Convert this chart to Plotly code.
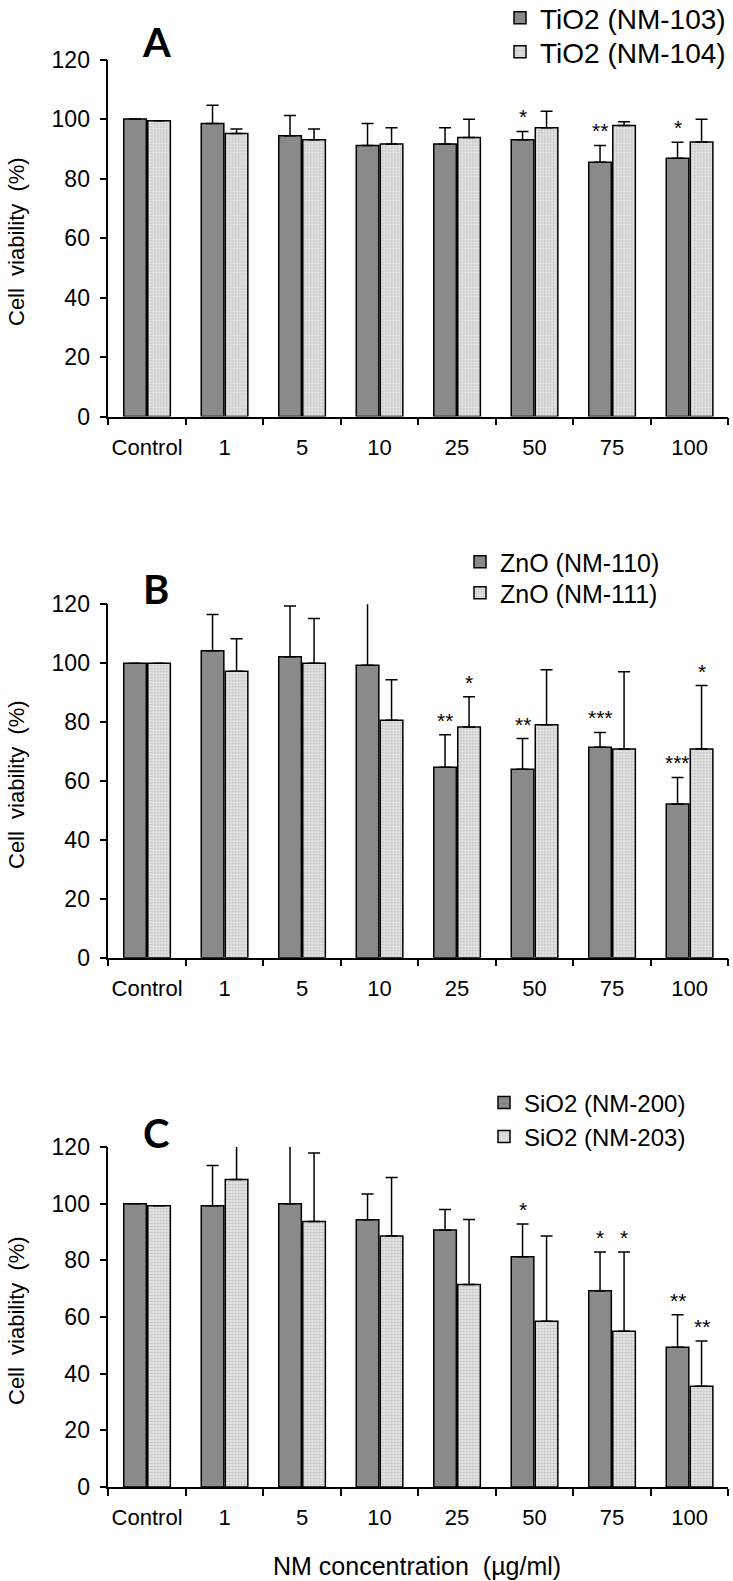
import plotly.graph_objects as go
from plotly.subplots import make_subplots

categories = ["Control", "1", "5", "10", "25", "50", "75", "100"]

# Panel A
a_names = ["TiO2 (NM-103)", "TiO2 (NM-104)"]
a_dark = [100, 98.5, 94.4, 91.1, 91.6, 93.0, 85.5, 86.8]
a_dark_err = [0, 6.1, 6.8, 7.4, 5.5, 2.8, 5.6, 5.4]
a_light = [99.4, 95.1, 93.0, 91.6, 93.8, 97.1, 97.8, 92.3]
a_light_err = [0, 1.5, 3.6, 5.5, 6.1, 5.5, 1.3, 7.6]
a_stars = [(5, 0, "*"), (6, 0, "**"), (7, 0, "*")]

# Panel B
b_names = ["ZnO (NM-110)", "ZnO (NM-111)"]
b_dark = [100, 104.2, 102.2, 99.3, 64.7, 64.0, 71.5, 52.2]
b_dark_err = [0, 12.3, 17.2, 25.0, 11.0, 10.4, 5.0, 9.0]
b_light = [100, 97.3, 100, 80.6, 78.3, 79.1, 70.9, 70.9]
b_light_err = [0, 11.0, 15.2, 13.8, 10.3, 18.7, 26.2, 21.5]
b_stars = [(4, 0, "**"), (4, 1, "*"), (5, 0, "**"), (6, 0, "***"), (7, 0, "***"), (7, 1, "*")]

# Panel C
c_names = ["SiO2 (NM-200)", "SiO2 (NM-203)"]
c_dark = [100, 99.3, 100, 94.3, 90.7, 81.3, 69.3, 49.3]
c_dark_err = [0, 14.2, 23.0, 9.1, 7.2, 11.5, 13.6, 11.5]
c_light = [99.3, 108.5, 93.7, 88.6, 71.5, 58.5, 55.0, 35.6]
c_light_err = [0, 16.5, 24.2, 20.6, 22.9, 30.1, 27.9, 15.9]
c_stars = [(5, 0, "*"), (6, 0, "*"), (6, 1, "*"), (7, 0, "**"), (7, 1, "**")]

y_ticks = [0, 20, 40, 60, 80, 100, 120]
panel_letters = ["A", "B", "C"]
y_title = "Cell\u00a0 viability\u00a0 (%)"
x_title = "NM concentration\u00a0 (\u00b5g/ml)"

# ---- layout geometry (page pixels) ----
FW, FH = 733, 1581
X0, X1 = 108.3, 728.3
panels_px = [(59.5, 416.5), (604.3, 957.7), (1147.0, 1487.0)]  # (y of 120, y of 0)
legend_text_x = [540, 500, 524]
legend_items_y = [(18, 52), (562, 593), (1103, 1137)]
legend_size = [28, 25, 24]
letter_y = [42, 589, 1133]

FONT = "Arial, Liberation Sans, sans-serif"
DARK = "#8a8a8a"
BARGAP = 0.38
GROUPGAP = 0.06


def px_x(p):
    return p / FW


def px_y(p):
    return 1 - p / FH


fig = make_subplots(rows=3, cols=1)

panels = [
    (a_names, a_dark, a_dark_err, a_light, a_light_err, a_stars),
    (b_names, b_dark, b_dark_err, b_light, b_light_err, b_stars),
    (c_names, c_dark, c_dark_err, c_light, c_light_err, c_stars),
]

xs = list(range(len(categories)))
slot = (1 - BARGAP) / 2
offs = [-slot / 2, slot / 2]

for i, (names, dark, dark_err, light, light_err, stars) in enumerate(panels):
    row = i + 1
    legs = ["legend" if 2 * i == 0 else f"legend{2 * i + 1}", f"legend{2 * i + 2}"]
    fig.add_trace(go.Bar(
        x=xs, y=dark, name=names[0], legend=legs[0],
        marker=dict(color=DARK, line=dict(color="black", width=1.5)),
        error_y=dict(type="data", symmetric=False, array=dark_err,
                     arrayminus=[0] * len(dark), color="black", thickness=1.5, width=6),
    ), row=row, col=1)
    fig.add_trace(go.Bar(
        x=xs, y=light, name=names[1], legend=legs[1],
        marker=dict(color="#e4e4e4", line=dict(color="black", width=1.5),
                    pattern=dict(shape=".", bgcolor="#e6e6e6", fgcolor="#8f8f8f",
                                 size=3, solidity=0.35)),
        error_y=dict(type="data", symmetric=False, array=light_err,
                     arrayminus=[0] * len(light), color="black", thickness=1.5, width=6),
    ), row=row, col=1)

    top, bot = panels_px[i]
    xa = "xaxis" if i == 0 else f"xaxis{i + 1}"
    ya = "yaxis" if i == 0 else f"yaxis{i + 1}"
    fig.layout[xa].update(
        domain=[px_x(X0), px_x(X1)], range=[-0.5, len(categories) - 0.5],
        tickmode="array", tickvals=xs, ticktext=categories, ticks="",
        showline=True, linecolor="black", linewidth=1.5, showgrid=False, zeroline=False,
        tickfont=dict(family=FONT, size=22, color="black"), ticklabelstandoff=10,
        automargin=False,
        minor=dict(tickmode="array", tickvals=[k - 0.5 for k in range(len(categories) + 1)],
                   ticks="outside", ticklen=7, tickwidth=1.5, tickcolor="black", showgrid=False),
    )
    fig.layout[ya].update(
        domain=[px_y(bot), px_y(top)], range=[0, 120],
        tickmode="array", tickvals=y_ticks, ticks="outside", ticklen=7, tickwidth=1.5,
        tickcolor="black", showline=True, linecolor="black", linewidth=1.5,
        showgrid=False, zeroline=False, automargin=False,
        tickfont=dict(family=FONT, size=23, color="black"), ticklabelstandoff=5,
    )

    # one legend per series so each entry sits where it is in the reference
    for j in range(2):
        fig.layout[legs[j]] = dict(
            x=px_x(legend_text_x[i] - 40), y=px_y(legend_items_y[i][j]),
            xanchor="left", yanchor="middle", xref="paper", yref="paper",
            font=dict(family=FONT, size=legend_size[i], color="black"),
            bgcolor="rgba(0,0,0,0)", itemwidth=30,
        )

    # panel letter
    fig.add_annotation(
        x=px_x(156), y=px_y(letter_y[i]), xref="paper", yref="paper",
        text=f"<b>{panel_letters[i]}</b>", showarrow=False,
        font=dict(family="Lato, Liberation Sans, sans-serif", size=40, color="black"),
        xanchor="center", yanchor="middle",
    )

    # y-axis title
    fig.add_annotation(
        x=px_x(16), y=px_y((top + bot) / 2 + 4), xref="paper", yref="paper",
        text=y_title, textangle=-90, showarrow=False,
        font=dict(family=FONT, size=22, color="black"),
        xanchor="center", yanchor="middle",
    )

    # significance stars
    series_vals = [(dark, dark_err), (light, light_err)]
    xref = "x" if i == 0 else f"x{i + 1}"
    yref = "y" if i == 0 else f"y{i + 1}"
    for (k, s, txt) in stars:
        vals, errs = series_vals[s]
        fig.add_annotation(
            x=k + offs[s], y=vals[k] + errs[k], xref=xref, yref=yref,
            text=txt, showarrow=False, xanchor="center", yanchor="bottom",
            font=dict(family=FONT, size=21, color="black"), yshift=1,
        )

# x-axis title (bottom)
fig.add_annotation(
    x=px_x(417), y=px_y(1566), xref="paper", yref="paper",
    text=x_title, showarrow=False,
    font=dict(family=FONT, size=25, color="black"),
    xanchor="center", yanchor="middle",
)

fig.update_layout(
    width=FW, height=FH,
    margin=dict(l=0, r=0, t=0, b=0, pad=0, autoexpand=False),
    paper_bgcolor="white", plot_bgcolor="white",
    barmode="group", bargap=BARGAP, bargroupgap=GROUPGAP,
    showlegend=True,
)

fig.write_html(
    "out.html",
    config={"displayModeBar": False},
    post_script="document.body.style.margin='0px';"
                "document.body.style.overflow='hidden';"
                "document.documentElement.style.overflow='hidden';",
)
